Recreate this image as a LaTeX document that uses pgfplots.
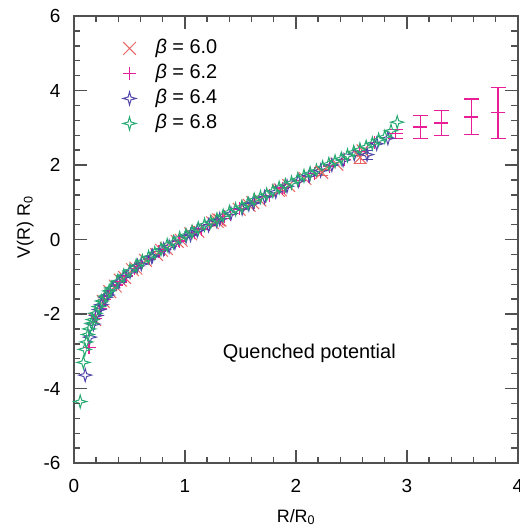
\documentclass[border=0pt]{standalone}
\usepackage{fontspec}
\setmainfont{Liberation Sans}
\usepackage{pgfplots}
\usepackage{pgfplotstable}
\pgfplotsset{compat=1.18}
\definecolor{c60}{RGB}{232,100,100}
\definecolor{c62}{RGB}{232,30,150}
\definecolor{c64}{RGB}{80,70,170}
\definecolor{c68}{RGB}{40,170,115}
\definecolor{axgray}{RGB}{80,80,80}
\pgfdeclareplotmark{star4}{%
  \pgfpathmoveto{\pgfqpoint{0pt}{\pgfplotmarksize}}%
  \pgfpathlineto{\pgfqpoint{0.22\pgfplotmarksize}{0.22\pgfplotmarksize}}%
  \pgfpathlineto{\pgfqpoint{\pgfplotmarksize}{0pt}}%
  \pgfpathlineto{\pgfqpoint{0.22\pgfplotmarksize}{-0.22\pgfplotmarksize}}%
  \pgfpathlineto{\pgfqpoint{0pt}{-\pgfplotmarksize}}%
  \pgfpathlineto{\pgfqpoint{-0.22\pgfplotmarksize}{-0.22\pgfplotmarksize}}%
  \pgfpathlineto{\pgfqpoint{-\pgfplotmarksize}{0pt}}%
  \pgfpathlineto{\pgfqpoint{-0.22\pgfplotmarksize}{0.22\pgfplotmarksize}}%
  \pgfpathclose\pgfusepathqstroke}
\pgfdeclareplotmark{plusM}{%
  \pgfsetstrokecolor{c62}%
  \pgfpathmoveto{\pgfqpoint{0pt}{\pgfplotmarksize}}%
  \pgfpathlineto{\pgfqpoint{0pt}{-\pgfplotmarksize}}%
  \pgfpathmoveto{\pgfqpoint{\pgfplotmarksize}{0pt}}%
  \pgfpathlineto{\pgfqpoint{-\pgfplotmarksize}{0pt}}%
  \pgfusepathqstroke}

\pgfplotstableread{
x y
0.186 -2.15
0.263 -1.66
0.322 -1.40
0.372 -1.25
0.416 -1.09
0.456 -1.02
0.526 -0.81
0.558 -0.77
0.644 -0.56
0.744 -0.40
0.789 -0.29
0.832 -0.24
0.930 -0.05
0.966 -0.02
1.052 0.15
1.116 0.22
1.248 0.45
1.289 0.49
1.302 0.53
1.315 0.52
1.488 0.81
1.578 0.92
1.611 0.99
1.674 1.06
1.841 1.32
1.860 1.33
1.933 1.45
2.080 1.64
2.368 2.02
2.604 2.38
}\datasixzero
\pgfplotstableread{
x y e
2.232 1.80 0.08
2.578 2.20 0.15
}\datasixzeroerr
\pgfplotstableread{
x y
0.1355 -2.90
0.192 -2.12
0.235 -1.86
0.271 -1.62
0.303 -1.51
0.332 -1.37
0.383 -1.22
0.407 -1.13
0.469 -0.98
0.542 -0.78
0.575 -0.73
0.606 -0.64
0.678 -0.52
0.767 -0.33
0.813 -0.27
0.939 -0.04
0.949 -0.05
1.084 0.19
1.150 0.28
1.220 0.41
1.341 0.57
1.355 0.61
1.408 0.67
1.491 0.82
1.626 0.99
1.725 1.15
1.762 1.19
1.878 1.38
1.897 1.39
2.033 1.59
2.112 1.70
2.168 1.77
2.304 1.97
2.439 2.15
2.575 2.36
2.710 2.60
}\datasixtwo
\pgfplotstableread{
x y e
2.900 2.84 0.12
3.12 3.02 0.30
3.31 3.13 0.33
3.58 3.29 0.48
3.82 3.40 0.68
}\datasixtwoerr
\pgfplotstableread{
x y
0.101 -3.64
0.143 -2.62
0.175 -2.27
0.202 -2.04
0.226 -1.88
0.247 -1.75
0.286 -1.55
0.303 -1.49
0.350 -1.30
0.404 -1.13
0.452 -1.00
0.505 -0.87
0.571 -0.71
0.606 -0.66
0.700 -0.46
0.707 -0.44
0.808 -0.26
0.857 -0.19
0.909 -0.09
1.010 0.08
1.050 0.12
1.111 0.24
1.212 0.38
1.286 0.50
1.313 0.55
1.414 0.70
1.515 0.83
1.575 0.94
1.616 0.98
1.717 1.14
1.818 1.28
1.919 1.43
2.020 1.57
2.121 1.72
2.222 1.85
2.323 2.00
2.424 2.13
2.525 2.29
2.727 2.57
2.828 2.72
}\datasixfour
\pgfplotstableread{
x y e
2.640 2.28 0.12
}\datasixfourerr
\pgfplotstableread{
x y
0.056 -4.35
0.085 -3.30
0.097 -2.95
0.112 -2.75
0.125 -2.55
0.137 -2.40
0.158 -2.25
0.168 -2.15
0.194 -1.98
0.224 -1.80
0.250 -1.65
0.280 -1.52
0.317 -1.38
0.336 -1.30
0.392 -1.12
0.448 -0.97
0.504 -0.83
0.560 -0.70
0.616 -0.58
0.672 -0.47
0.728 -0.36
0.784 -0.26
0.840 -0.15
0.896 -0.07
0.952 0.04
1.008 0.12
1.064 0.21
1.120 0.30
1.176 0.40
1.232 0.47
1.288 0.54
1.344 0.64
1.400 0.74
1.456 0.81
1.512 0.88
1.568 0.97
1.624 1.07
1.680 1.14
1.736 1.21
1.792 1.30
1.848 1.39
1.904 1.46
1.960 1.53
2.016 1.62
2.072 1.71
2.128 1.78
2.184 1.85
2.240 1.94
2.296 2.03
2.352 2.10
2.408 2.17
2.464 2.26
2.520 2.35
2.576 2.42
2.632 2.49
2.688 2.58
2.744 2.68
2.800 2.76
2.856 2.92
2.912 3.15
}\datasixeight

\begin{document}
\begin{tikzpicture}
\begin{axis}[
  name=ax,
  width=444bp, height=447bp, scale only axis,
  xmin=0, xmax=4, ymin=-6, ymax=6,
  xtick={0,1,2,3,4}, ytick={-6,-4,-2,0,2,4,6},
  minor x tick num=4, minor y tick num=4,
  tick align=inside,
  major tick length=13bp, minor tick length=6.5bp,
  axis line style={draw=axgray, line width=1.4bp},
  tick style={draw=axgray, line width=1.4bp},
  /pgf/number format/assume math mode=true,
  tick label style={font=\fontsize{19}{22}\selectfont},
  xticklabel style={yshift=-13bp},
  yticklabel style={xshift=-10bp},
  xlabel={R/R\textsubscript{0}},
  ylabel={V(R) R\textsubscript{0}},
  label style={font=\fontsize{18}{21}\selectfont},
  xlabel style={at={(axis description cs:0.5,-0.121)}, anchor=center},
  ylabel style={at={(axis description cs:-0.110,0.528)}, anchor=center},
  legend style={draw=none, fill=none, inner sep=0pt,
    at={(axis description cs:0.110,0.953)}, anchor=north west,
    font=\fontsize{20}{24}\selectfont, row sep=2.5bp,
    nodes={inner sep=1.5bp, text height=15bp, text depth=4.5bp},
    /tikz/every odd column/.append style={column sep=18bp}},
  legend cell align=left,
]
\addplot[only marks, mark=x, mark size=9bp, c60, line width=1bp] table[x=x,y=y] {\datasixzero};
\addlegendentry{\textit{β} = 6.0}
\addplot[only marks, mark=plusM, mark size=6.5bp, c62, line width=1.3bp] table[x=x,y=y] {\datasixtwo};
\addlegendentry{\textit{β} = 6.2}
\addplot[only marks, mark=star4, mark size=6.5bp, c64, line width=1bp] table[x=x,y=y] {\datasixfour};
\addlegendentry{\textit{β} = 6.4}
\addplot[only marks, mark=star4, mark size=6.5bp, c68, line width=1bp] table[x=x,y=y] {\datasixeight};
\addlegendentry{\textit{β} = 6.8}
\addplot[forget plot, only marks, mark=x, mark size=9bp, c60, line width=1bp,
  error bars/.cd, y dir=both, y explicit,
  error bar style={c60, line width=1bp},
  error mark options={rotate=90, mark size=6bp, line width=1bp, c60}]
  table[x=x,y=y,y error=e] {\datasixzeroerr};
\addplot[forget plot, only marks, mark=star4, mark size=6.5bp, c64, line width=1bp,
  error bars/.cd, y dir=both, y explicit,
  error bar style={c64, line width=1bp},
  error mark options={rotate=90, mark size=6bp, line width=1bp, c64}]
  table[x=x,y=y,y error=e] {\datasixfourerr};
\addplot[forget plot, only marks, mark=-, mark size=7bp, c62, line width=1.2bp,
  error bars/.cd, y dir=both, y explicit,
  error bar style={c62, line width=1.2bp},
  error mark options={rotate=90, mark size=7.5bp, line width=1.2bp, c62}]
  table[x=x,y=y,y error=e] {\datasixtwoerr};
\node[font=\fontsize{20}{24}\selectfont] at (axis cs:2.12,-3.05) {Quenched potential};
\end{axis}
% tick marks drawn again from the axis box, inside, on all four sides
\foreach \i in {1,...,19} {
  \pgfmathsetmacro{\len}{mod(\i,5)==0 ? 13 : 6.5}
  \draw[axgray, line width=1.4bp] ([xshift=\i*22.2bp]ax.south west) -- ++(0bp,\len bp);
  \draw[axgray, line width=1.4bp] ([xshift=\i*22.2bp]ax.north west) -- ++(0bp,-\len bp);
}
\foreach \i in {1,...,29} {
  \pgfmathsetmacro{\len}{mod(\i,5)==0 ? 13 : 6.5}
  \draw[axgray, line width=1.4bp] ([yshift=\i*14.9bp]ax.south west) -- ++(\len bp,0bp);
  \draw[axgray, line width=1.4bp] ([yshift=\i*14.9bp]ax.south east) -- ++(-\len bp,0bp);
}
\pgfresetboundingbox
\path[use as bounding box] ([xshift=-74bp,yshift=-66bp]ax.south west) rectangle ([xshift=2bp,yshift=16bp]ax.north east);
\end{tikzpicture}
\end{document}
